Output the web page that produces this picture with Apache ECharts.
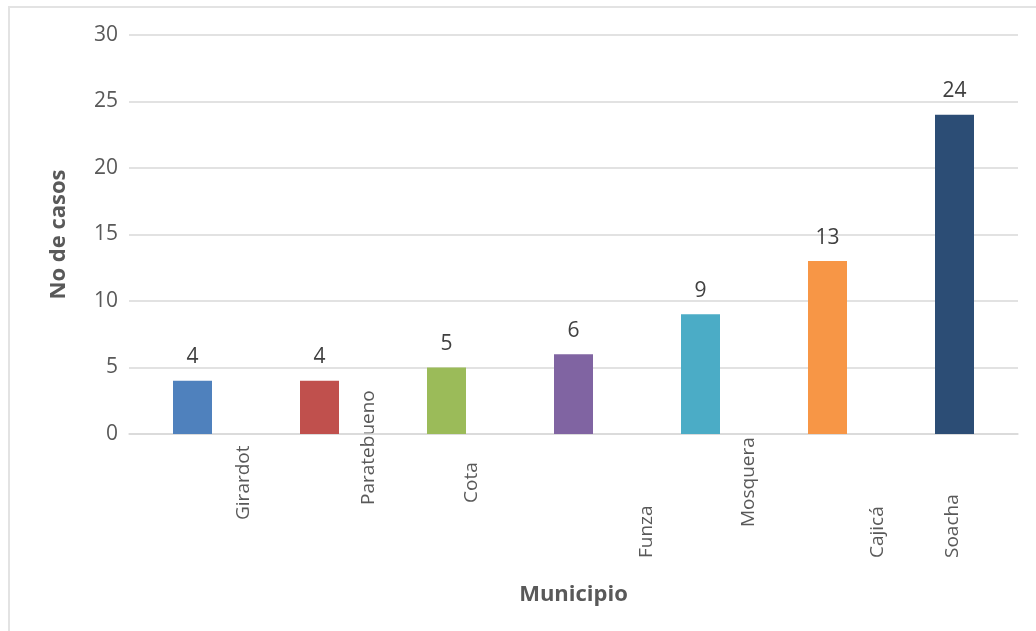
<!DOCTYPE html>
<html>
<head>
<meta charset="utf-8">
<script src="https://cdn.jsdelivr.net/npm/echarts@6/dist/echarts.min.js"></script>
<style>
html,body{margin:0;padding:0;background:#fff;}
#frame{position:absolute;left:8px;top:6px;width:1040px;height:640px;border-left:2px solid #e3e3e3;border-top:2px solid #e3e3e3;}
#chart{position:absolute;left:0;top:0;width:1036px;height:631px;}
</style>
</head>
<body>
<div id="frame"></div>
<div id="chart"></div>
<script>
var categories = ['Girardot', 'Paratebueno', 'Cota', 'Funza', 'Mosquera', 'Cajicá', 'Soacha'];
var casos = [4, 4, 5, 6, 9, 13, 24];
var yTicks = [0, 5, 10, 15, 20, 25, 30];
var barColors = ['#4F81BD', '#C0504D', '#9BBB59', '#8064A2', '#4BACC6', '#F79646', '#2C4D75'];
// label placement (style): horizontal shift from bar centre, and bottom of text below axis
var labelDx = [51, 49, 25, 73, 48, 50, -2];
var labelDy = [86, 71, 69, 124, 93, 124, 124];

var chart = echarts.init(document.getElementById('chart'), null, {renderer: 'canvas'});
var FONT = '"Open Sans", "Noto Sans", sans-serif';
var option = {
  animation: false,
  backgroundColor: 'transparent',
  grid: {left: 129, right: 18, top: 35, bottom: 197},
  xAxis: {
    type: 'category',
    data: categories,
    axisLine: {show: true, lineStyle: {color: '#d9d9d9', width: 1.5}},
    axisTick: {show: false},
    axisLabel: {show: false},
    name: 'Municipio',
    nameLocation: 'middle',
    nameGap: 150,
    nameTextStyle: {fontFamily: FONT, fontSize: 22, fontWeight: 'bold', color: '#595959'}
  },
  yAxis: {
    type: 'value',
    min: yTicks[0],
    max: yTicks[yTicks.length - 1],
    interval: yTicks[1] - yTicks[0],
    axisLine: {show: false},
    axisTick: {show: false},
    splitLine: {lineStyle: {color: '#d9d9d9', width: 1.5}},
    axisLabel: {fontFamily: FONT, fontSize: 21, color: '#595959', margin: 11},
    name: 'No de casos',
    nameLocation: 'middle',
    nameGap: 59,
    nameRotate: 90,
    nameTextStyle: {fontFamily: FONT, fontSize: 22, fontWeight: 'bold', color: '#595959'}
  },
  series: [{
    type: 'bar',
    barWidth: 39,
    data: casos.map(function (v, i) { return {value: v, itemStyle: {color: barColors[i]}}; }),
    label: {show: true, position: 'top', distance: 13, fontFamily: FONT, fontSize: 21, color: '#404040'}
  }]
};
chart.setOption(option);

var baseY = chart.convertToPixel({yAxisIndex: 0}, 0);
var texts = categories.map(function (c, i) {
  var px = chart.convertToPixel({xAxisIndex: 0}, c);
  return {
    type: 'text',
    x: px + labelDx[i],
    y: baseY + labelDy[i],
    rotation: Math.PI / 2,
    style: {text: c, fontFamily: FONT, fontSize: 19, fill: '#595959', align: 'left', verticalAlign: 'middle'}
  };
});
chart.setOption({graphic: texts});
</script>
</body>
</html>
